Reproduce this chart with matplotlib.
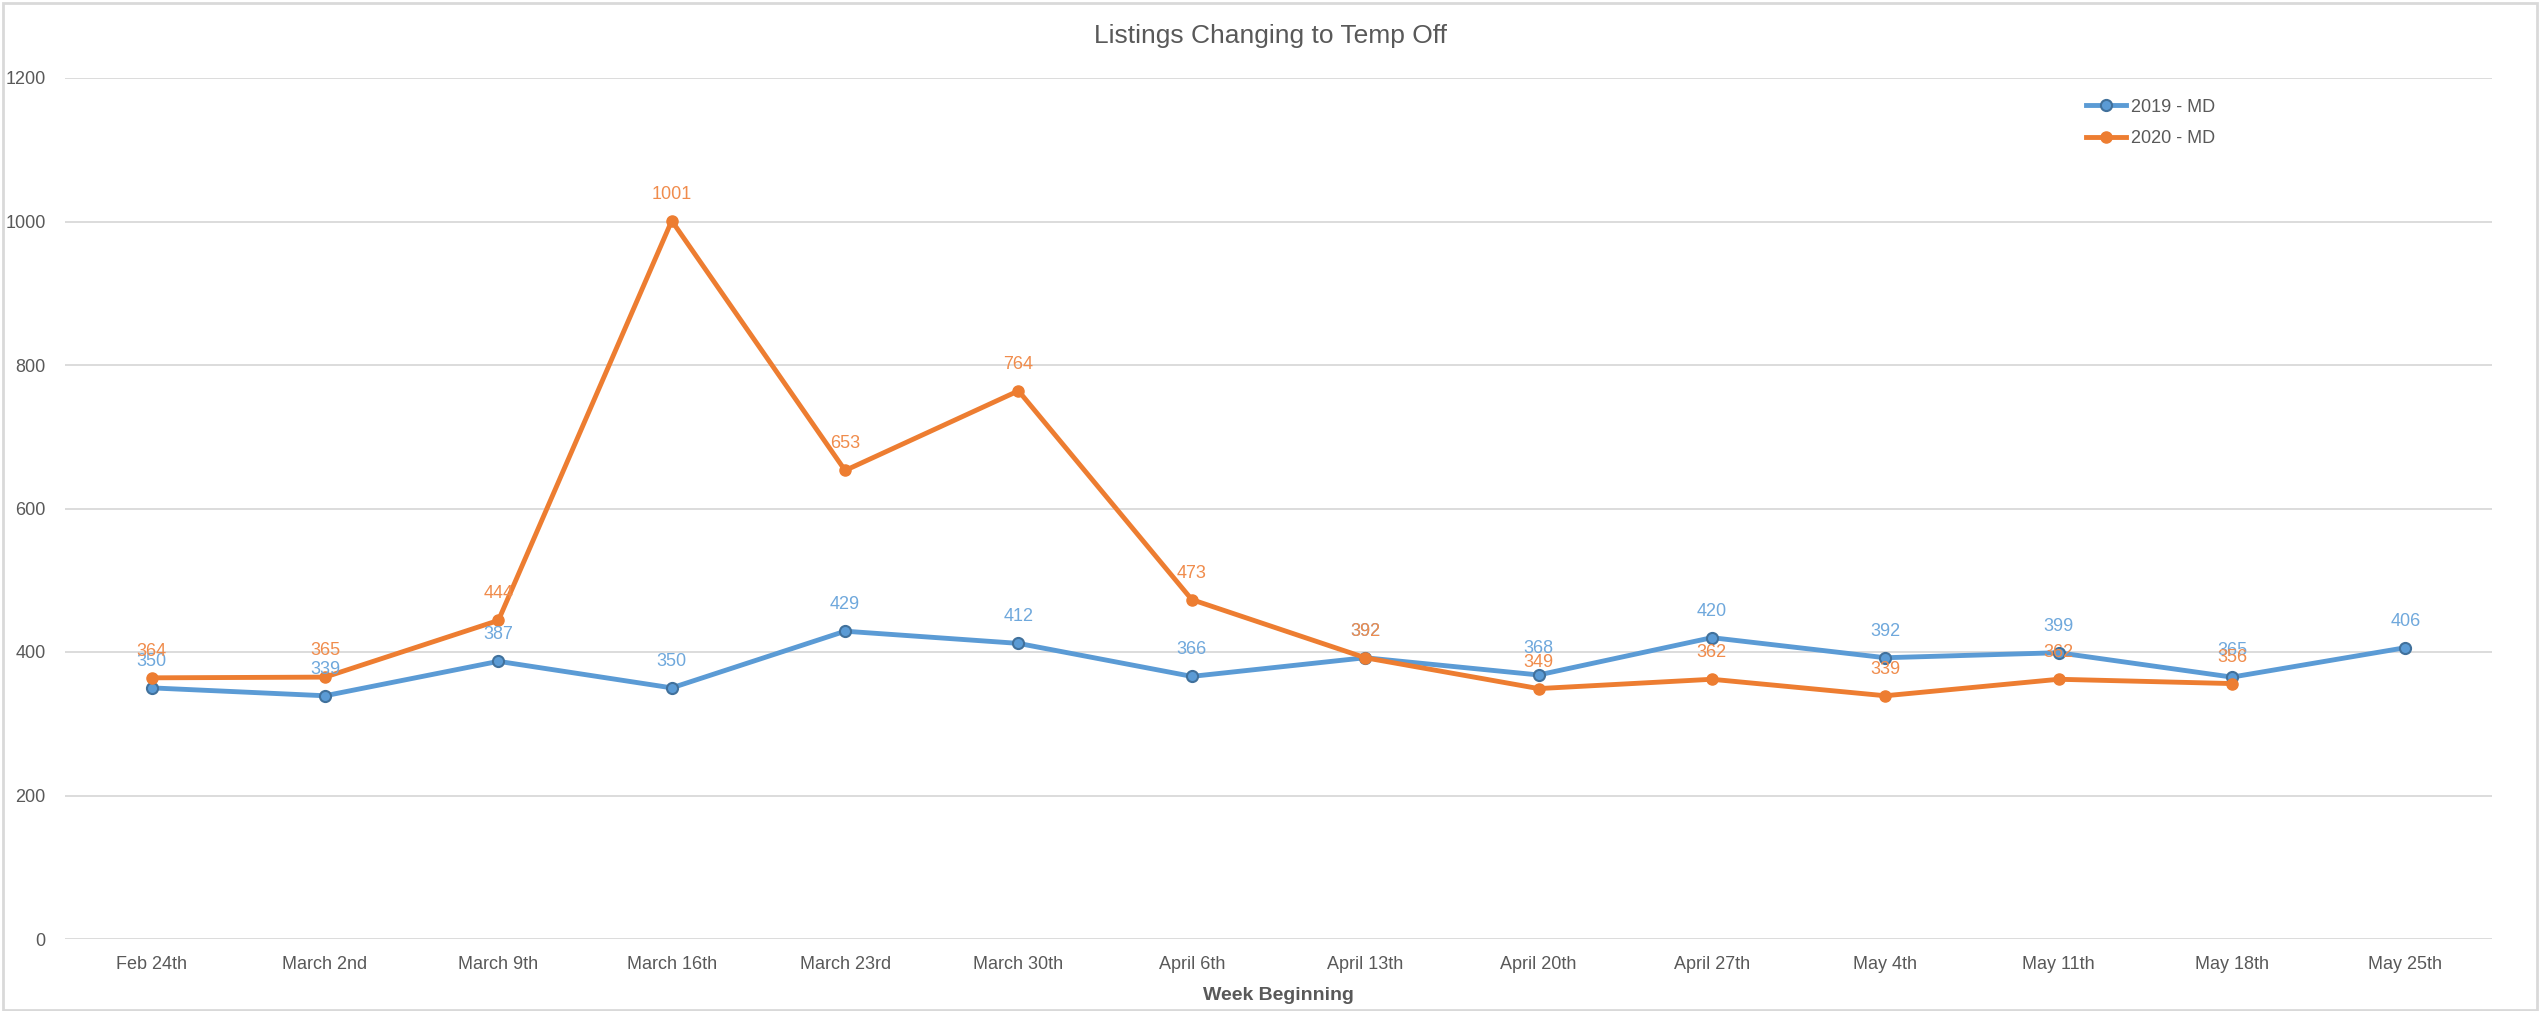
import matplotlib
matplotlib.use("Agg")
from matplotlib import pyplot as plt
from matplotlib.patches import Rectangle

weeks = ["Feb 24th", "March 2nd", "March 9th", "March 16th", "March 23rd", "March 30th",
         "April 6th", "April 13th", "April 20th", "April 27th", "May 4th", "May 11th",
         "May 18th", "May 25th"]
md_2019 = [350, 339, 387, 350, 429, 412, 366, 392, 368, 420, 392, 399, 365, 406]
md_2020 = [364, 365, 444, 1001, 653, 764, 473, 392, 349, 362, 339, 362, 356]
yticks = [0, 200, 400, 600, 800, 1000, 1200]

blue = "#5B9BD5"
orange = "#ED7D31"
text_col = "#595959"

plt.rcParams['font.family'] = ['Liberation Sans', 'DejaVu Sans']

fig = plt.figure(figsize=(25.42, 10.11), dpi=100)
ax = fig.add_axes([65 / 2542, 1 - 939 / 1011, (2492 - 65) / 2542, (939 - 78) / 1011])

x19 = list(range(len(md_2019)))
x20 = list(range(len(md_2020)))
ax.plot(x19, md_2019, color=blue, lw=3.5, marker='o', ms=8, mfc=blue, mec="#41719C", mew=1.5,
        label="2019 - MD", zorder=3)
ax.plot(x20, md_2020, color=orange, lw=3.5, marker='o', ms=8, mfc=orange, mec=orange,
        label="2020 - MD", zorder=3)

# data labels above each point
for i, v in enumerate(md_2019):
    ax.annotate(str(v), (i, v), xytext=(0, 13), textcoords='offset points', ha='center',
                va='bottom', color="#6FA8DC", fontsize=13)
for i, v in enumerate(md_2020):
    ax.annotate(str(v), (i, v), xytext=(0, 13), textcoords='offset points', ha='center',
                va='bottom', color="#F08C4C", fontsize=13)

ax.set_xlim(-0.5, len(weeks) - 0.5)
ax.set_ylim(0, 1200)
ax.set_yticks(yticks)
ax.set_xticks(range(len(weeks)))
ax.set_xticklabels(weeks)
ax.tick_params(length=0, labelsize=13, colors=text_col, pad=12)
ax.tick_params(axis='y', pad=14)
ax.grid(axis='y', color="#D9D9D9", lw=1.3)
ax.set_axisbelow(True)
for s in ax.spines.values():
    s.set_visible(False)

ax.set_xlabel("Week Beginning", fontsize=14, fontweight='bold', color=text_col, labelpad=10)
fig.text(0.5, 1 - 36 / 1011, "Listings Changing to Temp Off", ha='center', va='center',
         fontsize=19, color=text_col)

ax.legend(loc='upper left', bbox_to_anchor=(0.826, 0.995), frameon=False, fontsize=13,
          labelcolor=text_col, handlelength=2.2, handletextpad=0.3, labelspacing=0.8)

fig.patches.append(Rectangle((0.001, 0.001), 0.997, 0.996, transform=fig.transFigure,
                             fill=False, edgecolor="#D9D9D9", lw=2))

fig.savefig("out.png", dpi=100)
